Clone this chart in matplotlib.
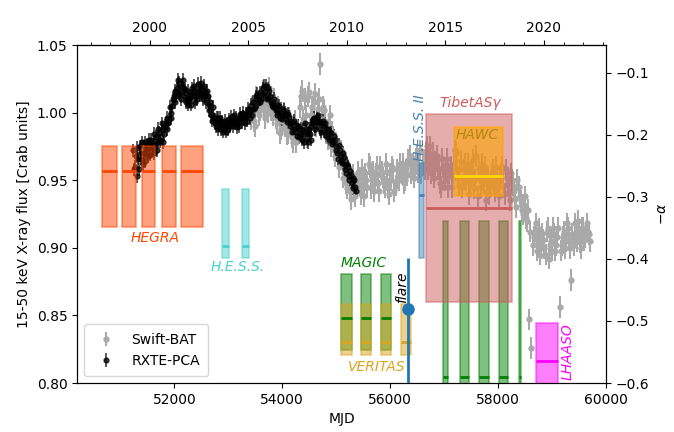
import numpy as np
import matplotlib.pyplot as plt
from matplotlib.ticker import MultipleLocator

# RXTE-PCA light curve (MJD, Crab units)
pca_mjd = [51240, 51255, 51270, 51285, 51300, 51315, 51330, 51345, 51360, 51375,
           51390, 51405, 51420, 51435, 51450, 51465, 51480, 51495, 51510, 51525,
           51540, 51555, 51570, 51585, 51600, 51615, 51630, 51645, 51660, 51675,
           51690, 51705, 51720, 51735, 51750, 51765, 51780, 51795, 51810, 51825,
           51840, 51855, 51870, 51885, 51900, 51915, 51930, 51945, 51960, 51975,
           51990, 52005, 52020, 52035, 52050, 52065, 52080, 52095, 52110, 52125,
           52140, 52155, 52170, 52185, 52200, 52215, 52230, 52245, 52260, 52275,
           52290, 52305, 52320, 52335, 52350, 52365, 52380, 52395, 52410, 52425,
           52440, 52455, 52470, 52485, 52500, 52515, 52530, 52545, 52560, 52575,
           52590, 52605, 52620, 52635, 52650, 52665, 52680, 52695, 52710, 52725,
           52740, 52755, 52770, 52785, 52800, 52815, 52830, 52845, 52860, 52875,
           52890, 52905, 52920, 52935, 52950, 52965, 52980, 52995, 53010, 53025,
           53040, 53055, 53070, 53085, 53100, 53115, 53130, 53145, 53160, 53175,
           53190, 53205, 53220, 53235, 53250, 53265, 53280, 53295, 53310, 53325,
           53340, 53355, 53370, 53385, 53400, 53415, 53430, 53445, 53460, 53475,
           53490, 53505, 53520, 53535, 53550, 53565, 53580, 53595, 53610, 53625,
           53640, 53655, 53670, 53685, 53700, 53715, 53730, 53745, 53760, 53775,
           53790, 53805, 53820, 53835, 53850, 53865, 53880, 53895, 53910, 53925,
           53940, 53955, 53970, 53985, 54000, 54015, 54030, 54045, 54060, 54075,
           54090, 54105, 54120, 54135, 54150, 54165, 54180, 54195, 54210, 54225,
           54240, 54255, 54270, 54285, 54300, 54315, 54330, 54345, 54360, 54375,
           54390, 54405, 54420, 54435, 54450, 54465, 54480, 54495, 54510, 54525,
           54540, 54555, 54570, 54585, 54600, 54615, 54630, 54645, 54660, 54675,
           54690, 54705, 54720, 54735, 54750, 54765, 54780, 54795, 54810, 54825,
           54840, 54855, 54870, 54885, 54900, 54915, 54930, 54945, 54960, 54975,
           54990, 55005, 55020, 55035, 55050, 55065, 55080, 55095, 55110, 55125,
           55140, 55155, 55170, 55185, 55200, 55215, 55230, 55245, 55260, 55275,
           55290, 55305, 55320, 55335, 55350, 55365]
pca_flux = [0.972, 0.958, 0.960, 0.968, 0.953, 0.974, 0.966, 0.958, 0.975, 0.966,
            0.970, 0.978, 0.962, 0.970, 0.978, 0.964, 0.972, 0.976, 0.968, 0.980,
            0.975, 0.969, 0.980, 0.974, 0.976, 0.984, 0.970, 0.977, 0.982, 0.972,
            0.978, 0.988, 0.985, 0.979, 0.980, 0.992, 0.988, 0.978, 0.984, 0.990,
            0.992, 0.996, 0.988, 0.992, 0.995, 1.004, 1.000, 0.996, 1.005, 1.010,
            1.012, 1.016, 1.008, 1.012, 1.018, 1.024, 1.022, 1.014, 1.015, 1.010,
            1.020, 1.024, 1.012, 1.018, 1.017, 1.008, 1.010, 1.016, 1.006, 1.010,
            1.012, 1.006, 1.018, 1.012, 1.014, 1.020, 1.008, 1.012, 1.016, 1.010,
            1.021, 1.016, 1.013, 1.022, 1.018, 1.014, 1.010, 1.020, 1.015, 1.012,
            1.008, 1.016, 1.012, 1.006, 1.002, 1.008, 0.998, 0.994, 1.004, 0.998,
            0.995, 0.992, 0.990, 0.996, 0.996, 0.988, 0.992, 0.996, 0.988, 0.990,
            0.993, 0.986, 0.990, 0.994, 0.986, 0.990, 0.992, 0.988, 0.995, 0.992,
            0.990, 0.997, 0.994, 0.990, 0.998, 0.994, 0.992, 0.996, 0.989, 0.992,
            0.995, 0.990, 0.999, 0.996, 0.993, 1.000, 0.997, 0.995, 0.992, 0.999,
            0.998, 0.994, 1.003, 1.000, 0.996, 1.006, 1.002, 0.998, 1.008, 1.003,
            1.004, 1.010, 1.012, 1.014, 1.007, 1.010, 1.015, 1.008, 1.010, 1.014,
            1.018, 1.020, 1.013, 1.015, 1.020, 1.010, 1.011, 1.018, 1.016, 1.012,
            1.008, 1.006, 1.004, 1.008, 1.010, 1.004, 1.002, 1.006, 0.998, 1.000,
            1.005, 0.996, 1.000, 1.003, 0.995, 0.998, 1.002, 1.000, 0.998, 0.995,
            0.993, 0.999, 0.997, 0.994, 0.990, 0.992, 0.986, 0.988, 0.992, 0.994,
            0.988, 0.986, 0.983, 0.990, 0.990, 0.982, 0.985, 0.988, 0.980, 0.984,
            0.987, 0.978, 0.992, 0.988, 0.985, 0.982, 0.978, 0.988, 0.984, 0.980,
            0.990, 0.992, 0.995, 0.996, 0.988, 0.990, 0.993, 0.996, 0.998, 0.994,
            0.992, 0.988, 0.986, 0.992, 0.994, 0.986, 0.990, 0.992, 0.983, 0.986,
            0.988, 0.982, 0.980, 0.986, 0.985, 0.980, 0.977, 0.978, 0.983, 0.980,
            0.975, 0.972, 0.970, 0.966, 0.976, 0.972, 0.968, 0.964, 0.963, 0.970,
            0.967, 0.962, 0.958, 0.955, 0.962, 0.960, 0.953, 0.950, 0.957, 0.954,
            0.948, 0.944, 0.952, 0.950, 0.945, 0.942]

# Swift-BAT light curve
bat_mjd = [53420, 53440, 53460, 53480, 53500, 53520, 53540, 53560, 53580, 53600,
           53620, 53640, 53660, 53680, 53700, 53720, 53740, 53760, 53780, 53800,
           53820, 53840, 53860, 53880, 53900, 53920, 53940, 53960, 53980, 54000,
           54020, 54040, 54060, 54080, 54100, 54120, 54140, 54160, 54180, 54200,
           54220, 54240, 54260, 54280, 54300, 54320, 54340, 54360, 54380, 54400,
           54420, 54440, 54460, 54480, 54500, 54520, 54540, 54560, 54580, 54600,
           54620, 54640, 54660, 54680, 54700, 54720, 54740, 54760, 54780, 54800,
           54820, 54840, 54860, 54880, 54900, 54920, 54940, 54960, 54980, 55000,
           55020, 55040, 55060, 55080, 55100, 55120, 55140, 55160, 55180, 55200,
           55220, 55240, 55260, 55280, 55300, 55320, 55340, 55360, 55380, 55400,
           55420, 55440, 55460, 55480, 55500, 55520, 55540, 55560, 55580, 55600,
           55620, 55640, 55660, 55680, 55700, 55720, 55740, 55760, 55780, 55800,
           55820, 55840, 55860, 55880, 55900, 55920, 55940, 55960, 55980, 56000,
           56020, 56040, 56060, 56080, 56100, 56120, 56140, 56160, 56180, 56200,
           56220, 56240, 56260, 56280, 56300, 56320, 56340, 56360, 56380, 56400,
           56420, 56440, 56460, 56480, 56500, 56520, 56540, 56560, 56580, 56600,
           56620, 56640, 56660, 56680, 56700, 56720, 56740, 56760, 56780, 56800,
           56820, 56840, 56860, 56880, 56900, 56920, 56940, 56960, 56980, 57000,
           57020, 57040, 57060, 57080, 57100, 57120, 57140, 57160, 57180, 57200,
           57220, 57240, 57260, 57280, 57300, 57320, 57340, 57360, 57380, 57400,
           57420, 57440, 57460, 57480, 57500, 57520, 57540, 57560, 57580, 57600,
           57620, 57640, 57660, 57680, 57700, 57720, 57740, 57760, 57780, 57800,
           57820, 57840, 57860, 57880, 57900, 57920, 57940, 57960, 57980, 58000,
           58020, 58040, 58060, 58080, 58100, 58120, 58140, 58160, 58180, 58200,
           58220, 58240, 58260, 58280, 58300, 58320, 58340, 58360, 58380, 58400,
           58420, 58440, 58460, 58480, 58500, 58520, 58540, 58560, 58580, 58600,
           58620, 58640, 58660, 58680, 58700, 58720, 58740, 58760, 58780, 58800,
           58820, 58840, 58860, 58880, 58900, 58920, 58940, 58960, 58980, 59000,
           59020, 59040, 59060, 59080, 59100, 59120, 59140, 59160, 59180, 59200,
           59220, 59240, 59260, 59280, 59300, 59320, 59340, 59360, 59380, 59400,
           59420, 59440, 59460, 59480, 59500, 59520, 59540, 59560, 59580, 59600,
           59620, 59640, 59660, 59680, 59700]
bat_flux = [0.995, 1.004, 1.000, 0.994, 0.990, 1.012, 1.008, 0.998, 1.002, 1.006,
            1.012, 1.016, 1.005, 0.996, 1.015, 1.008, 1.000, 1.018, 1.010, 1.002,
            0.998, 1.010, 1.006, 0.996, 0.992, 1.004, 1.000, 0.985, 0.988, 0.994,
            0.997, 1.000, 0.990, 0.984, 0.985, 0.996, 0.994, 0.988, 0.982, 0.978,
            0.990, 0.994, 0.978, 0.984, 0.986, 1.004, 1.012, 1.016, 0.995, 0.988,
            1.010, 0.998, 0.982, 1.012, 1.015, 0.990, 0.998, 1.004, 1.008, 1.014,
            0.990, 0.996, 1.003, 1.010, 1.036, 0.988, 0.995, 1.004, 1.002, 0.994,
            0.985, 0.980, 0.992, 0.998, 0.975, 0.986, 0.982, 0.972, 0.968, 0.978,
            0.975, 0.966, 0.960, 0.972, 0.968, 0.952, 0.955, 0.962, 0.948, 0.944,
            0.958, 0.952, 0.942, 0.936, 0.950, 0.954, 0.938, 0.946, 0.945, 0.956,
            0.952, 0.946, 0.940, 0.958, 0.948, 0.938, 0.955, 0.950, 0.945, 0.962,
            0.960, 0.944, 0.950, 0.956, 0.942, 0.948, 0.955, 0.960, 0.948, 0.942,
            0.960, 0.956, 0.952, 0.948, 0.945, 0.962, 0.956, 0.944, 0.940, 0.955,
            0.950, 0.960, 0.958, 0.942, 0.946, 0.958, 0.952, 0.950, 0.962, 0.956,
            0.955, 0.962, 0.948, 0.950, 0.958, 0.954, 0.965, 0.968, 0.955, 0.960,
            0.962, 0.952, 0.958, 0.966, 0.968, 0.956, 0.960, 0.972, 0.955, 0.962,
            0.965, 0.958, 0.970, 0.975, 0.958, 0.966, 0.975, 0.955, 0.962, 0.970,
            0.952, 0.962, 0.968, 0.958, 0.958, 0.948, 0.945, 0.966, 0.960, 0.955,
            0.950, 0.958, 0.966, 0.945, 0.955, 0.960, 0.945, 0.952, 0.962, 0.972,
            0.970, 0.958, 0.952, 0.946, 0.958, 0.964, 0.945, 0.952, 0.962, 0.950,
            0.955, 0.962, 0.940, 0.948, 0.958, 0.955, 0.965, 0.944, 0.950, 0.968,
            0.938, 0.958, 0.955, 0.945, 0.962, 0.955, 0.948, 0.960, 0.935, 0.950,
            0.952, 0.940, 0.945, 0.955, 0.958, 0.948, 0.942, 0.960, 0.950, 0.945,
            0.938, 0.952, 0.955, 0.960, 0.945, 0.940, 0.958, 0.952, 0.948, 0.942,
            0.935, 0.955, 0.950, 0.946, 0.942, 0.936, 0.930, 0.950, 0.945, 0.938,
            0.935, 0.928, 0.925, 0.932, 0.938, 0.922, 0.920, 0.928, 0.847, 0.912,
            0.826, 0.902, 0.908, 0.912, 0.918, 0.898, 0.905, 0.914, 0.895, 0.900,
            0.910, 0.906, 0.900, 0.895, 0.912, 0.915, 0.892, 0.902, 0.905, 0.898,
            0.915, 0.910, 0.898, 0.902, 0.908, 0.915, 0.856, 0.898, 0.902, 0.908,
            0.912, 0.900, 0.905, 0.918, 0.915, 0.906, 0.900, 0.876, 0.910, 0.902,
            0.918, 0.908, 0.905, 0.920, 0.912, 0.904, 0.900, 0.915, 0.915, 0.906,
            0.908, 0.918, 0.912, 0.910, 0.905]

# gamma-ray index bands: start, end, low, high, centre
hegra_t0 = [50653, 51024, 51395, 51777, 52124]
hegra_t1 = [50931, 51283, 51642, 52031, 52538]
hegra_lo, hegra_hi, hegra_c = -0.348, -0.218, -0.258

hess_t0 = [52890, 53261]
hess_t1 = [53014, 53391]
hess_lo, hess_hi, hess_c = -0.399, -0.287, -0.379

magic_t0 = [55092, 55463, 55834, 56976, 57300, 57640, 58011, 58395]
magic_t1 = [55296, 55654, 56025, 57072, 57454, 57825, 58178, 58435]
magic_lo = [-0.546, -0.546, -0.546, -0.70, -0.70, -0.70, -0.70, -0.70]
magic_hi = [-0.424, -0.424, -0.424, -0.338, -0.338, -0.338, -0.338, -0.338]
magic_c = [-0.495, -0.495, -0.495, -0.590, -0.590, -0.590, -0.590, -0.590]

veritas_t0 = [55092, 55463, 55834, 56200]
veritas_t1 = [55296, 55654, 56025, 56391]
veritas_lo, veritas_hi, veritas_c = -0.555, -0.473, -0.534

hess2_t0, hess2_t1 = 56527, 56632
hess2_lo, hess2_hi, hess2_c = -0.399, -0.246, -0.297

flare_mjd, flare_top, flare_val = 56336, -0.399, -0.480

tibet_t0, tibet_t1 = 56669, 58259
tibet_lo, tibet_hi, tibet_c = -0.469, -0.167, -0.317

hawc_t0, hawc_t1 = 57176, 58092
hawc_lo, hawc_hi, hawc_c = -0.298, -0.187, -0.267

lhaaso_t0, lhaaso_t1 = 58710, 59113
lhaaso_lo, lhaaso_hi, lhaaso_c = -0.70, -0.504, -0.564


def band(ax, t0, t1, lo, hi, c, color, lcolor=None, alpha=0.5):
    t0 = np.atleast_1d(t0)
    t1 = np.atleast_1d(t1)
    lo = np.broadcast_to(lo, t0.shape)
    hi = np.broadcast_to(hi, t0.shape)
    c = np.broadcast_to(c, t0.shape)
    ax.bar(t0, hi - lo, bottom=lo, width=t1 - t0, align='edge', color=color,
           alpha=alpha, edgecolor=color, linewidth=1.2)
    ax.hlines(c, t0, t1, color=lcolor or color, lw=2)


fig, ax = plt.subplots(figsize=(6.74, 4.32), dpi=100)
fig.subplots_adjust(left=0.1146, right=0.899, bottom=0.1134, top=0.8958)

ax.errorbar(bat_mjd, bat_flux, yerr=0.008, fmt='o', ms=3.5, color='darkgray',
            ecolor='darkgray', elinewidth=1.5, label='Swift-BAT')
ax.errorbar(pca_mjd, pca_flux, yerr=0.005, fmt='o', ms=3.5, color='black',
            ecolor='black', elinewidth=1.2, alpha=0.75, label='RXTE-PCA')
ax.set_xlim(50200, 60000)
ax.set_ylim(0.80, 1.05)
ax.xaxis.set_major_locator(MultipleLocator(2000))
ax.set_xlabel('MJD')
ax.set_ylabel('15-50 keV X-ray flux [Crab units]')
ax.legend(loc='lower left', fontsize=10, borderpad=0.6)

top = ax.secondary_xaxis('top', functions=(lambda m: 2000 + (m - 51544) / 365.25,
                                           lambda y: 51544 + (y - 2000) * 365.25))
top.xaxis.set_major_locator(MultipleLocator(5))
top.xaxis.set_minor_locator(MultipleLocator(1))

ax2 = ax.twinx()
ax2.set_ylim(-0.6, -0.055)
ax2.set_ylabel(r'$-\alpha$')

band(ax2, hegra_t0, hegra_t1, hegra_lo, hegra_hi, hegra_c, 'orangered')
band(ax2, hess_t0, hess_t1, hess_lo, hess_hi, hess_c, 'mediumturquoise')
band(ax2, magic_t0, magic_t1, magic_lo, magic_hi, magic_c, 'green')
band(ax2, veritas_t0, veritas_t1, veritas_lo, veritas_hi, veritas_c, 'goldenrod')
band(ax2, hess2_t0, hess2_t1, hess2_lo, hess2_hi, hess2_c, 'steelblue')
band(ax2, tibet_t0, tibet_t1, tibet_lo, tibet_hi, tibet_c, 'indianred')
band(ax2, hawc_t0, hawc_t1, hawc_lo, hawc_hi, hawc_c, 'orange', lcolor='gold', alpha=0.6)
band(ax2, lhaaso_t0, lhaaso_t1, lhaaso_lo, lhaaso_hi, lhaaso_c, 'magenta')

ax2.vlines(flare_mjd, -0.7, flare_top, color='tab:blue', lw=2)
ax2.plot(flare_mjd, flare_val, 'o', color='tab:blue', ms=8)

ax2.text(51641, -0.366, 'HEGRA', color='orangered', style='italic', ha='center', va='center')
ax2.text(53181, -0.413, 'H.E.S.S.', color='mediumturquoise', style='italic', ha='center', va='center')
ax2.text(55518, -0.406, 'MAGIC', color='green', style='italic', ha='center', va='center')
ax2.text(55759, -0.574, 'VERITAS', color='goldenrod', style='italic', ha='center', va='center')
ax2.text(56223, -0.445, 'flare', color='black', style='italic', rotation=90, ha='center', va='center')
ax2.text(56557, -0.189, 'H.E.S.S. II', color='steelblue', style='italic', rotation=90, ha='center', va='center')
ax2.text(57484, -0.149, 'TibetASγ', color='indianred', style='italic', ha='center', va='center')
ax2.text(57614, -0.200, 'HAWC', color='darkgoldenrod', style='italic', ha='center', va='center')
ax2.text(59282, -0.550, 'LHAASO', color='magenta', style='italic', rotation=90, ha='center', va='center')

fig.savefig('out.png', dpi=100)
